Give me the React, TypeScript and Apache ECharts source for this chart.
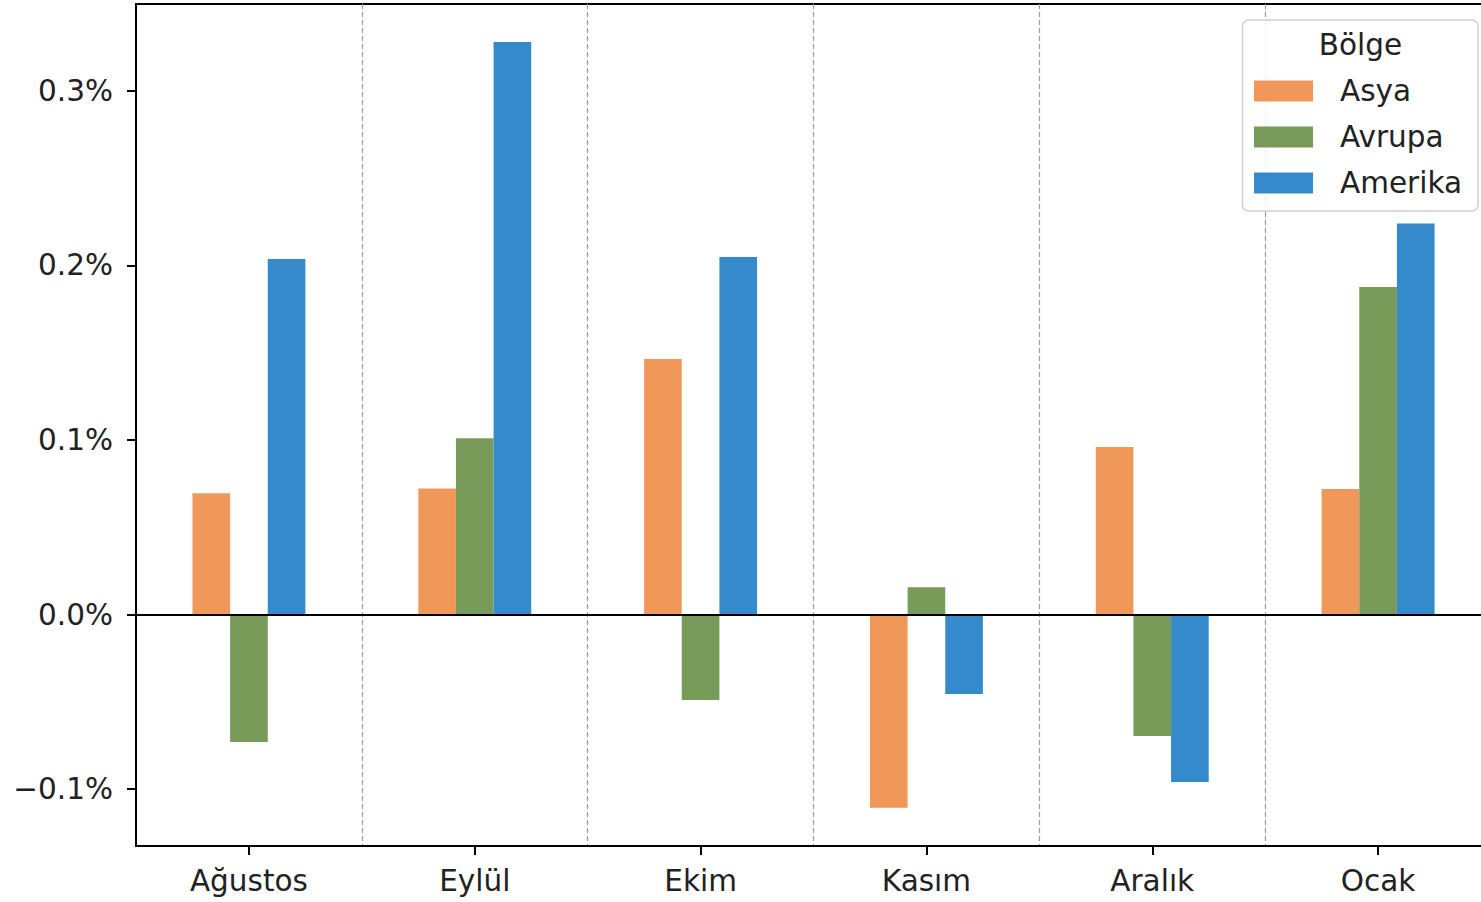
import React, { useEffect, useRef } from "react";
import * as echarts from "echarts";

const months = ["Ağustos", "Eylül", "Ekim", "Kasım", "Aralık", "Ocak"];
const seriesNames = ["Asya", "Avrupa", "Amerika"];
const asya = [0.0694, 0.0722, 0.1463, -0.1107, 0.0959, 0.0719];
const avrupa = [-0.073, 0.1009, -0.049, 0.0156, -0.0696, 0.1876];
const amerika = [0.2036, 0.3279, 0.2048, -0.0455, -0.0959, 0.2239];
const yTicks = [-0.1, 0, 0.1, 0.2, 0.3];
const colors = ["#F0975A", "#789B5A", "#348ACB"];
const legendTitle = "Bölge";

const FONT = "'DejaVu Sans', sans-serif";
const TEXT = "#222";
const FS = 29.5;

export default function App() {
  const ref = useRef<HTMLDivElement>(null);
  useEffect(() => {
    if (!ref.current) return;
    const chart = echarts.init(ref.current, null, { renderer: "svg" });
    const values = [asya, avrupa, amerika];
    const fmt = (v: number) => {
      const s = Math.abs(v).toFixed(1) + "%";
      return v < -1e-9 ? "\u2212" + s : s;
    };
    chart.setOption({
      animation: false,
      backgroundColor: "#fff",
      textStyle: { fontFamily: FONT },
      grid: {
        left: 136,
        right: 9,
        top: 4,
        bottom: 56,
        show: true,
        borderColor: "#000",
        borderWidth: 2,
        backgroundColor: "transparent",
      },
      xAxis: {
        type: "category",
        data: months,
        boundaryGap: true,
        axisLine: {
          show: true,
          onZero: false,
          lineStyle: { color: "#000", width: 2 },
        },
        axisTick: {
          show: true,
          interval: 0,
          alignWithLabel: true,
          length: 9,
          lineStyle: { color: "#000", width: 2 },
        },
        axisLabel: {
          interval: 0,
          fontSize: FS,
          fontFamily: FONT,
          color: TEXT,
          margin: 20,
        },
        splitLine: {
          show: true,
          interval: 0,
          lineStyle: { color: "#9a9a9a", width: 1.2, type: [5, 3] },
        },
      },
      yAxis: {
        type: "value",
        min: -0.1326,
        max: 0.3497,
        axisLine: { show: true, lineStyle: { color: "#000", width: 2 } },
        axisTick: {
          show: true,
          length: 9,
          customValues: yTicks,
          lineStyle: { color: "#000", width: 2 },
        },
        axisLabel: {
          fontSize: FS,
          fontFamily: FONT,
          color: TEXT,
          margin: 23,
          customValues: yTicks,
          formatter: (v: number) => fmt(v),
        },
        splitLine: { show: false },
      },
      legend: {
        orient: "vertical",
        left: 1254,
        top: 76,
        padding: 0,
        itemWidth: 59,
        itemHeight: 21,
        itemGap: 16,
        icon: "rect",
        z: 100,
        textStyle: {
          fontSize: FS,
          fontFamily: FONT,
          color: TEXT,
          padding: [0, 0, 0, 22],
        },
        data: seriesNames,
      },
      graphic: [
        {
          type: "rect",
          z: 50,
          shape: { x: 1242.5, y: 20, width: 235.5, height: 191, r: 6 },
          style: { fill: "rgba(255,255,255,0.85)", stroke: "#d0d0d0", lineWidth: 1.5 },
        },
        {
          type: "text",
          z: 51,
          x: 1360.5,
          y: 45,
          style: {
            text: legendTitle,
            fontSize: FS,
            fontFamily: FONT,
            fill: TEXT,
            align: "center",
            verticalAlign: "middle",
          },
        },
      ],
      series: seriesNames.map((name, i) => ({
        name,
        type: "bar",
        data: values[i],
        barWidth: "16.667%",
        barGap: "0%",
        itemStyle: { color: colors[i] },
        ...(i === seriesNames.length - 1
          ? {
              markLine: {
                silent: true,
                symbol: "none",
                label: { show: false },
                lineStyle: { color: "#000", width: 2.2, type: "solid" },
                data: [{ yAxis: 0 }],
              },
            }
          : {}),
      })),
    });
    return () => chart.dispose();
  }, []);
  return (
    <div
      ref={ref}
      style={{ position: "fixed", left: 0, top: 0, width: 1500, height: 902 }}
    />
  );
}
